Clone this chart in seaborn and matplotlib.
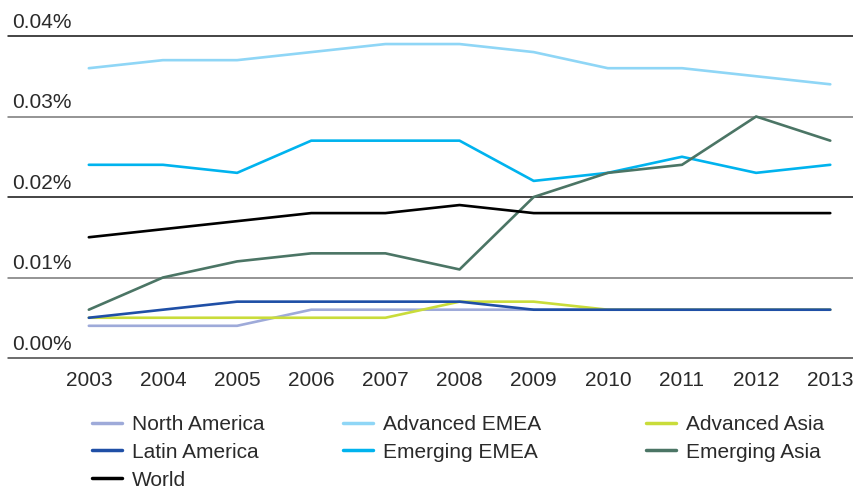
import pandas as pd
import matplotlib.pyplot as plt
import seaborn as sns

# values (share, in %)
years = [2003, 2004, 2005, 2006, 2007, 2008, 2009, 2010, 2011, 2012, 2013]
north_america = [0.004, 0.004, 0.004, 0.006, 0.006, 0.006, 0.006, 0.006, 0.006, 0.006, 0.006]
advanced_emea = [0.036, 0.037, 0.037, 0.038, 0.039, 0.039, 0.038, 0.036, 0.036, 0.035, 0.034]
advanced_asia = [0.005, 0.005, 0.005, 0.005, 0.005, 0.007, 0.007, 0.006, 0.006, 0.006, 0.006]
latin_america = [0.005, 0.006, 0.007, 0.007, 0.007, 0.007, 0.006, 0.006, 0.006, 0.006, 0.006]
emerging_emea = [0.024, 0.024, 0.023, 0.027, 0.027, 0.027, 0.022, 0.023, 0.025, 0.023, 0.024]
emerging_asia = [0.006, 0.010, 0.012, 0.013, 0.013, 0.011, 0.020, 0.023, 0.024, 0.030, 0.027]
world = [0.015, 0.016, 0.017, 0.018, 0.018, 0.019, 0.018, 0.018, 0.018, 0.018, 0.018]

y_ticks = [0.00, 0.01, 0.02, 0.03, 0.04]
y_labels = ["0.00%", "0.01%", "0.02%", "0.03%", "0.04%"]

series = {
    "North America": north_america,
    "Advanced EMEA": advanced_emea,
    "Advanced Asia": advanced_asia,
    "Latin America": latin_america,
    "Emerging EMEA": emerging_emea,
    "Emerging Asia": emerging_asia,
    "World": world,
}
colors = {
    "North America": "#9eaad9",
    "Advanced EMEA": "#8fd6f6",
    "Advanced Asia": "#c9dc3a",
    "Latin America": "#1f4fa6",
    "Emerging EMEA": "#00b3ee",
    "Emerging Asia": "#4b7565",
    "World": "#000000",
}

df = pd.DataFrame(
    [(name, y, v) for name, vals in series.items() for y, v in zip(years, vals)],
    columns=["region", "year", "value"],
)

sns.set_style("white")
plt.rcParams["font.family"] = ["Liberation Sans", "DejaVu Sans"]
txt_color = "#2a2a2a"
fs = 15

fig = plt.figure(figsize=(8.54, 4.91), dpi=100)
ax = fig.add_axes([8 / 854, 1 - 358 / 491, 1 - 8 / 854, (358 - 36) / 491])

sns.lineplot(data=df, x="year", y="value", hue="region", palette=colors,
             hue_order=list(series.keys()), linewidth=1.9, ax=ax, legend=False)

ax.set_xlim(2001.91, 2013.32)
ax.set_ylim(0, 0.04)
for s in ax.spines.values():
    s.set_visible(False)

# horizontal rules with labels sitting on top of them
grid_colors = ["#444444", "#777777", "#111111", "#777777", "#111111"]
for t, lab, gc in zip(y_ticks, y_labels, grid_colors):
    ax.axhline(t, color=gc, linewidth=1.1, clip_on=False, zorder=0)
    ax.annotate(lab, xy=(0, t), xycoords=("axes fraction", "data"),
                xytext=(3, 3), textcoords="offset points",
                ha="left", va="bottom", fontsize=fs, color=txt_color)

ax.set_yticks([])
ax.set_xticks(years)
ax.set_xticklabels([str(y) for y in years], fontsize=fs, color=txt_color)
ax.tick_params(axis="x", length=0, pad=9)
ax.set_xlabel("")
ax.set_ylabel("")

# legend: three columns placed separately, filled row by row as in the original
columns = [
    (["North America", "Latin America", "World"], 92),
    (["Advanced EMEA", "Emerging EMEA"], 343),
    (["Advanced Asia", "Emerging Asia"], 646),
]
for names, x0 in columns:
    handles = [plt.Line2D([], [], color=colors[n], linewidth=2.5) for n in names]
    fig.legend(handles, names, loc="upper left",
               bbox_to_anchor=(x0 / 854, 1 - 415 / 491),
               frameon=False, fontsize=fs, handlelength=1.45,
               handletextpad=0.45, labelspacing=0.42, borderpad=0,
               borderaxespad=0, labelcolor=txt_color)

fig.savefig("out.png", dpi=100)
